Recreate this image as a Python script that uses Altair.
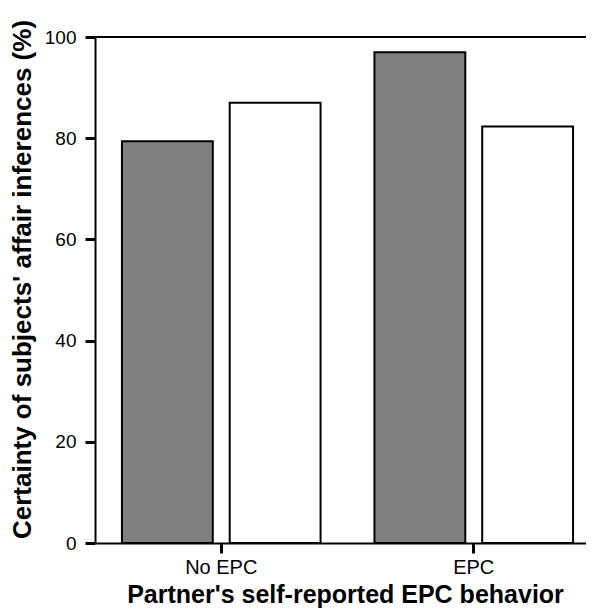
import altair as alt
import pandas as pd

groups = ["No EPC", "EPC"]
series = ["Condition 1", "Condition 2"]
values_s1 = [79.4, 97.0]
values_s2 = [87.0, 82.3]
y_ticks = [0, 20, 40, 60, 80, 100]

rows = []
for g, a, b in zip(groups, values_s1, values_s2):
    rows.append({"group": g, "series": series[0], "value": a})
    rows.append({"group": g, "series": series[1], "value": b})
df = pd.DataFrame(rows)

FONT = "Liberation Sans"
W, H = 491, 506

bars = alt.Chart(df).mark_bar(stroke="black", strokeWidth=2).encode(
    x=alt.X("group:N", sort=groups,
            scale=alt.Scale(range=[0, 505], paddingInner=0, paddingOuter=0),
            axis=alt.Axis(title="Partner's self-reported EPC behavior", labelAngle=0,
                          tickSize=10, tickWidth=3, domainWidth=2, domainColor="black",
                          tickColor="black", labelFont=FONT, labelFontSize=20,
                          labelColor="black", labelPadding=4, titleFont=FONT,
                          titleFontSize=25, titleFontWeight="bold", titleColor="black",
                          titleX=250, titleY=59, titleBaseline="alphabetic",
                          titleAlign="center")),
    xOffset=alt.XOffset("series:N", sort=series,
                        scale=alt.Scale(paddingInner=0.157, paddingOuter=0.25)),
    y=alt.Y("value:Q", scale=alt.Scale(domain=[0, 100], nice=False),
            axis=alt.Axis(title="Certainty of subjects' affair inferences (%)",
                          values=y_ticks, grid=False, tickSize=10, tickWidth=3,
                          domainWidth=2, domainColor="black", tickColor="black",
                          labelFont=FONT, labelFontSize=19, labelColor="black",
                          labelPadding=9, titleFont=FONT, titleFontSize=26,
                          titleFontWeight="bold", titleColor="black",
                          titleX=-65, titleY=242, titleBaseline="alphabetic",
                          titleAlign="center", titleAngle=270)),
    fill=alt.Fill("series:N", sort=series,
                  scale=alt.Scale(domain=series, range=["#808080", "#ffffff"]),
                  legend=None),
)

top_rule = alt.Chart(pd.DataFrame({"v": [100]})).mark_rule(
    color="black", strokeWidth=2).encode(y=alt.Y("v:Q"))

chart = alt.layer(bars, top_rule).properties(
    width=W, height=H,
    autosize=alt.AutoSizeParams(type="none"),
    padding={"left": 87, "top": 29, "right": 0, "bottom": 65},
).configure_view(stroke=None).configure(background="white")

chart.save("out.html", embed_options={"renderer": "svg", "actions": False})
